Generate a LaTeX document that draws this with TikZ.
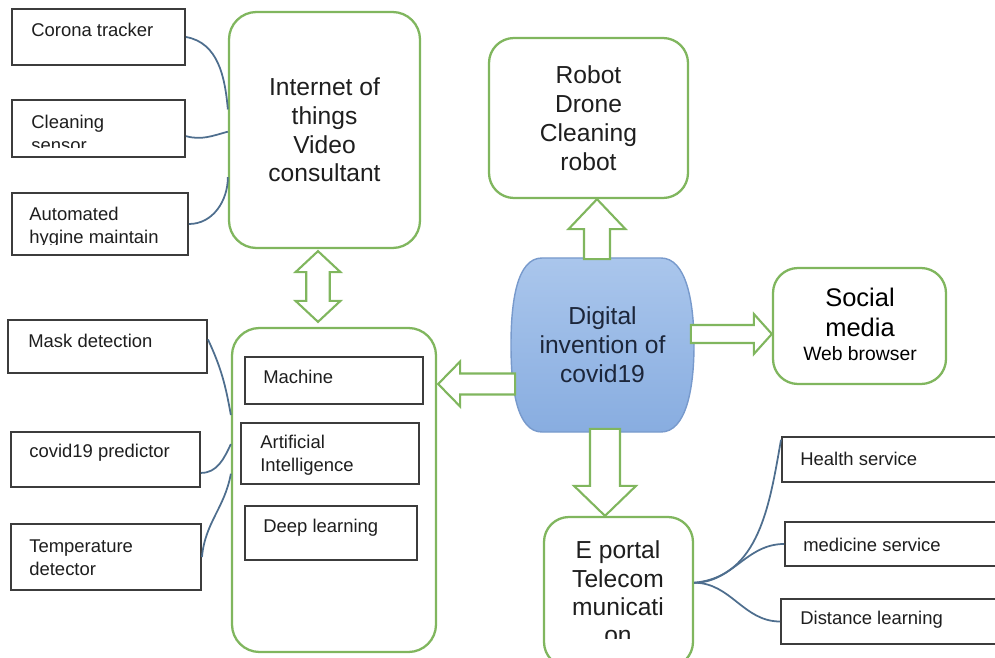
\documentclass[tikz,border=0pt]{standalone}
\usepackage{fontspec}
\setmainfont{Liberation Sans}
\usepackage{tikz}
\usetikzlibrary{calc}

\definecolor{leafgreen}{RGB}{128,182,94}
\definecolor{boxgray}{RGB}{60,60,60}
\definecolor{wireblue}{RGB}{78,110,142}
\definecolor{capsuletop}{RGB}{170,198,236}
\definecolor{capsulebot}{RGB}{136,173,224}
\definecolor{capsuleline}{RGB}{120,154,204}
\definecolor{inktext}{RGB}{30,30,30}
\definecolor{navytext}{RGB}{28,38,58}

% hollow block arrow: tip, direction, length, head length, head half width, shaft half width
\newcommand{\hollowarrow}[6]{%
  \draw[blockarrow, shift={(#1)}, rotate=#2]
    (0,0) -- (-#4,#5) -- (-#4,#6) -- (-#3,#6) -- (-#3,-#6) -- (-#4,-#6) -- (-#4,-#5) -- cycle;}

\begin{document}
\begin{tikzpicture}[
  x=0.02cm, y=0.02cm,
  font=\fontsize{10.5}{13}\selectfont, text=inktext,
  sz/.style 2 args={minimum width=#1*0.02cm, minimum height=#2*0.02cm, inner sep=0pt},
  plainbox/.style={draw=boxgray, line width=1.1pt, fill=white},
  greenbox/.style={draw=leafgreen, line width=1.3pt, rounded corners=0.55cm, fill=white},
  lbl/.style={anchor=west, align=left, inner sep=0pt},
  bigtxt/.style={align=center, inner sep=0pt, font=\fontsize{14}{16.4}\selectfont},
  wire/.style={wireblue, line width=1pt},
  blockarrow/.style={draw=leafgreen, line width=1.2pt, fill=white, line join=miter}
]
\useasboundingbox (0,0) rectangle (995,657);

% ----- IoT block and its sensors -----
\node[greenbox, bigtxt, sz={191}{236}] (iot) at (324.5,527) {Internet of\\things\\Video\\consultant};

\node[plainbox, sz={173}{56}] (tracker) at (98.5,620) {};
\node[plainbox, sz={173}{57}] (cleaning) at (98.5,528.5) {};
\node[plainbox, sz={176}{62}] (hygiene) at (100,433) {};

\node[lbl] (trackertxt) at (31,627) {Corona tracker};
\begin{scope}
  \clip ($(cleaning.south west)+(0,10)$) rectangle (cleaning.north east);
  \node[lbl] (cleaningtxt) at (31,523.5) {Cleaning\\sensor};
\end{scope}
\begin{scope}
  \clip ($(hygiene.south west)+(0,11)$) rectangle (hygiene.north east);
  \node[lbl] (hygienetxt) at (29,430) {Automated\\hygine maintain};
\end{scope}

\draw[wire] (tracker.east) to[out=-10, in=95] (iot.168);
\draw[wire] (cleaning.-5) to[out=-15, in=-165] (iot.181);
\draw[wire] (hygiene.east) to[out=0, in=-90] (iot.206);

% ----- learning block and its detectors -----
\node[greenbox, sz={204}{324}] (mlbox) at (334,167) {};

\node[plainbox, sz={178}{47}] (machine) at (334,276.5) {};
\node[plainbox, sz={178}{61}] (ai) at (330,203.5) {};
\node[plainbox, sz={172}{54}] (deep) at (331,124) {};

\begin{scope}
  \clip ($(machine.south west)+(0,13)$) rectangle (machine.north east);
  \node[lbl] (machinetxt) at (263,267) {Machine\\learning};
\end{scope}
\begin{scope}
  \clip ($(ai.south west)+(0,9)$) rectangle (ai.north east);
  \node[lbl] (aitxt) at (260,201.5) {Artificial\\Intelligence};
\end{scope}
\node[lbl] (deeptxt) at (263,129) {Deep learning};

\node[plainbox, sz={199}{53}] (mask) at (107.5,310.5) {};
\node[plainbox, sz={189}{55}] (predictor) at (105.5,197.5) {};
\node[plainbox, sz={190}{66}] (temp) at (106,100) {};

\node[lbl] (masktxt) at (28,316) {Mask detection};
\node[lbl] (predictortxt) at (29,204) {covid19 predictor};
\node[lbl] (temptxt) at (29,99.5) {Temperature\\detector};

\draw[wire] (mask.4) to[out=-65, in=100] (mlbox.144);
\draw[wire] (predictor.-8) to[out=0, in=-115] (mlbox.156);
\draw[wire] (temp.east) to[out=85, in=-100] (mlbox.171);

% ----- central capsule -----
\draw[top color=capsuletop, bottom color=capsulebot, draw=capsuleline, line width=0.8pt]
  (542,399) -- (661,399) .. controls (686,399) and (694,356) .. (694,312)
  .. controls (694,268) and (686,225) .. (661,225) -- (542,225)
  .. controls (517,225) and (511,268) .. (511,312)
  .. controls (511,356) and (517,399) .. (542,399) -- cycle;
\node[bigtxt, text=navytext, sz={183}{174}] (dig) at (602.5,312) {Digital\\invention of\\covid19};

% ----- robots, social media, e portal -----
\node[greenbox, bigtxt, sz={199}{160}, rounded corners=0.5cm] (robot) at (588.5,539) {Robot\\Drone\\Cleaning\\robot};

\node[greenbox, sz={173}{116}, rounded corners=0.5cm] (social) at (859.5,331) {};
\node[bigtxt, text=black, font=\fontsize{14.5}{17}\selectfont] (socialtxt) at (860,345) {Social\\media};
\node[inner sep=0pt, text=black, font=\fontsize{11}{13}\selectfont] (webtxt) at (860,303) {Web browser};

\node[greenbox, sz={149}{150}, rounded corners=0.5cm] (eportal) at (618.5,65) {};
\begin{scope}
  \clip (544,19) rectangle (693,140);
  \node[bigtxt, font=\fontsize{14}{16.2}\selectfont] (eportaltxt) at (618,64.5) {E portal\\Telecom\\municati\\on};
\end{scope}

\node[plainbox, sz={223}{45}] (health) at (893.5,197.5) {};
\node[plainbox, sz={220}{44}] (medicine) at (895,113) {};
\node[plainbox, sz={224}{45}] (distance) at (893,35.5) {};

\node[lbl] (healthtxt) at (800,198) {Health service};
\node[lbl] (medicinetxt) at (803,112) {medicine service};
\node[lbl] (distancetxt) at (800,37) {Distance learning};

\draw[wire] (eportal.7) to[out=5, in=-100] (health.170);
\draw[wire] (eportal.7) to[out=0, in=180] (medicine.west);
\draw[wire] (eportal.7) to[out=0, in=180] (distance.west);

% ----- hollow block arrows -----
\hollowarrow{$(robot.south)+(8.5,0)$}{90}{60}{30}{28.5}{13}
\hollowarrow{$(social.west)+(0,-8)$}{0}{81}{18}{20}{9}
\hollowarrow{$(mlbox.east)+(1,106)$}{180}{77}{22}{22.5}{10.5}
\hollowarrow{$(eportal.north)+(-13.5,0)$}{-90}{87}{30}{31}{15}

\coordinate (dtop) at ($(iot.south)+(-6.5,-2)$);
\coordinate (dbot) at ($(mlbox.north)+(-16,5)$);
\draw[blockarrow] (dtop) -- ++(22.5,-21) -- ++(-10.8,0) -- ($(dbot)+(11.7,21)$)
  -- ++(10.8,0) -- (dbot) -- ++(-22.5,21) -- ++(10.8,0)
  -- ($(dtop)+(-11.7,-21)$) -- ++(-10.8,0) -- cycle;
\end{tikzpicture}
\end{document}
